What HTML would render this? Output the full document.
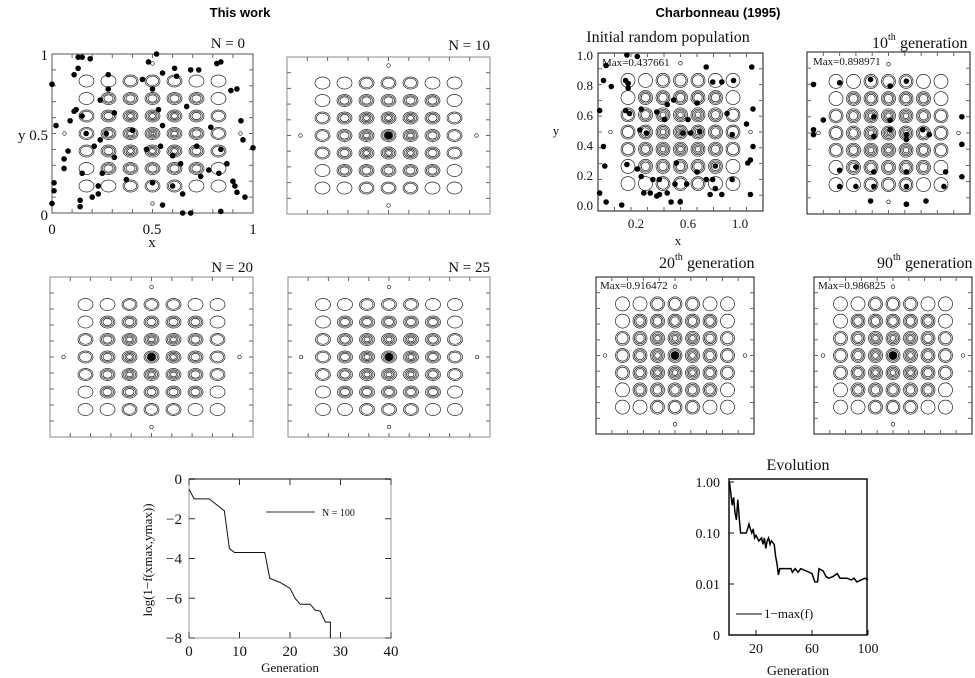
<!DOCTYPE html>
<html><head><meta charset="utf-8"><style>
body{margin:0;background:#fff;}
svg{display:block;}
.s{font-family:"Liberation Serif",serif;fill:#111;}
.b{font-family:"Liberation Sans",sans-serif;font-weight:bold;font-size:13px;fill:#000;}
</style></head><body>
<svg id="c" width="975" height="678" viewBox="0 0 975 678" xmlns="http://www.w3.org/2000/svg">
<text class="b" x="240" y="17" text-anchor="middle">This work</text>
<text class="b" x="718" y="17" text-anchor="middle">Charbonneau (1995)</text>
</svg>
<script>
// ---------- data ----------
const p1X=[.13,.15,.19,.13,.11,0,.02,.01,.01,0,.06,.06,.08,.09,.15,.17,.11,.12,.15,.14,.14,.2,.23,.23,.25,.24,.21,.24,.28,.28,.31,.27,.31,.37,.4,.45,.48,.5,.53,.55,.54,.47,.5,.55,.6,.61,.62,.64,.65,.67,.69,.73,.72,.74,.78,.79,.82,.84,.83,.84,.87,.89,.92,.94,.95,.96,1,.91,.92,.9,.65,.69,.84,.6,.52,.55];
const p1Y=[.98,.98,.97,.91,.87,.81,.55,.19,.14,.06,.28,.34,.39,.58,.61,.5,.64,.65,.25,.08,.04,.1,.12,.17,.25,.46,.42,.71,.87,.78,.35,.5,.63,.21,.52,.84,.95,.78,.65,.55,.42,.4,.19,.05,.17,.91,.86,.31,.12,.67,.9,.9,.42,.23,.27,.54,.94,.95,.25,.4,.31,.77,.78,.58,.46,.1,.41,.17,.13,.2,0,0,.01,.36,1,.88];
const q1X=[.13,.21,-.03,-.05,.01,.12,.14,.14,-.08,.12,.15,.24,.36,.44,.49,.42,.23,.28,-.05,-.04,-.08,-.03,.09,.13,.21,.24,.26,.31,.36,.38,.44,.47,.54,.5,.59,.77,.79,.81,.86,.94,1.08,1.08,1.1,1.06,1.05,1.1,1.09,.86,.95,.79,.74,.67,.6,.56,.62,.69,.9,.94,.81,.67,.74,.51,.38,.33];
const q1Y=[1,.99,.93,.83,.79,.83,.81,.78,.63,.63,.61,.64,.62,.67,.7,.57,.5,.48,.39,.26,.08,.02,0,.27,.24,.19,.08,.08,.06,.07,.08,.02,.02,.14,.14,.07,.17,.11,.07,.17,.07,.3,.39,.28,.54,.64,.92,.82,.83,.82,.92,.68,.57,.48,.48,.49,.61,.47,.26,.22,.17,.28,.17,.17];
const q2X=[.04,.04,.04,.10,.20,.39,.51,.61,.51,.41,.51,.61,.71,.75,.41,.61,.95,.95,.95,.20,.30,.41,.61,.85,.20,.30,.41,.61,.84,.39,.61,.61,.73];
const q2Y=[.80,.52,.49,.58,.81,.83,.79,.82,.58,.60,.52,.49,.52,.49,.48,.46,.60,.43,.23,.27,.29,.26,.26,.26,.17,.17,.17,.17,.17,.08,.06,.06,.08];
const genL=[0,1,4,5,7,8,9,15,16,18,20,21,22,24,25,26,27,28,28];
const valL=[-0.5,-1,-1,-1.2,-1.6,-3.5,-3.7,-3.7,-5,-5.2,-5.5,-6,-6.3,-6.3,-6.6,-6.65,-7.2,-7.2,-8];
const xTicksL=[0,10,20,30,40];
const yTicksL=[0,-2,-4,-6,-8];
const genR=[1,2,3,4,5,6,7,8,9,12,13,14,15,16,17,18,19,20,22,24,25,26,27,28,29,30,31,33,34,35,36,37,45,46,48,50,52,58,60,62,64,65,68,70,72,75,78,80,85,88,90,92,95,98,100];
const valR=[1,.6,.35,.5,.25,.18,.45,.2,.1,.1,.1,.12,.15,.12,.1,.12,.08,.09,.07,.08,.06,.08,.05,.07,.08,.06,.07,.06,.035,.025,.015,.02,.02,.017,.02,.017,.02,.017,.016,.011,.011,.02,.018,.014,.013,.014,.016,.013,.013,.012,.013,.011,.012,.013,.012];
const xTicksR=[20,60,100];
const yTicksR=[1,0.1,0.01,0.001];
const yTickLabR=["1.00","0.10","0.01","0"];
// ---------- helpers ----------
const svg=document.getElementById('c');const NS='http://www.w3.org/2000/svg';
function mk(t,a,p){const e=document.createElementNS(NS,t);for(const k in a)e.setAttribute(k,a[k]);(p||svg).appendChild(e);return e;}
function txt(x,y,s,size,anchor,p){const e=mk('text',{x:x,y:y,'font-size':size,'text-anchor':anchor||'start',class:'s'},p);e.textContent=s;return e;}
function panel(name,x0,y0,x1,y1,stroke,spx,spy,rx,ry,centerDot){
 const g=mk('g',{});
 
 
 mk('rect',{x:x0,y:y0,width:x1-x0,height:y1-y0,fill:'none',stroke:stroke,'stroke-width':1},g);
 const cx=(x0+x1)/2,cy=(y0+y1)/2;
 for(let k=1;k<10;k++){const tx=x0+(x1-x0)*k/10,ty=y0+(y1-y0)*k/10;
  mk('line',{x1:tx,y1:y1,x2:tx,y2:y1-4,stroke:'#666'},g);mk('line',{x1:tx,y1:y0,x2:tx,y2:y0+4,stroke:'#666'},g);
  mk('line',{x1:x0,y1:ty,x2:x0+4,y2:ty,stroke:'#666'},g);mk('line',{x1:x1,y1:ty,x2:x1-4,y2:ty,stroke:'#666'},g);}
 for(let i=-3;i<=3;i++)for(let j=-3;j<=3;j++){
  const m=Math.max(Math.abs(i),Math.abs(j));let n=Math.max(2,5-m);if(m==3&&(Math.abs(i)+Math.abs(j))>=5)n=1;
  for(let k=0;k<n;k++){const s=1-k*0.2;mk('ellipse',{cx:cx+i*spx,cy:cy+j*spy,rx:rx*s,ry:ry*s,fill:'none',stroke:'#222','stroke-width':0.7},g);}
 }
 [[0,-4],[0,4],[-4,0],[4,0]].forEach(d=>mk('circle',{cx:cx+d[0]*spx,cy:cy+d[1]*spy,r:1.8,fill:'none',stroke:'#222','stroke-width':0.7},g));
 if(centerDot)mk('circle',{cx:cx,cy:cy,r:4,fill:'#000'},g);
 return g;
}
// ---------- left contour panels ----------
panel('panel-n0',52,54,253,213,'#555',22,17.5,7.5,6,false);
txt(245,48,'N  =  0',15,'end');
txt(48,220,'0',15,'end');txt(48,60,'1',15,'end');txt(48,140,'y 0.5',15,'end');
txt(52,234,'0',15,'middle');txt(152,234,'0.5',15,'middle');txt(253,234,'1',15,'middle');txt(152,247,'x',15,'middle');
p1X.forEach((v,i)=>{const d=mk('circle',{cx:52+v*201,cy:213-p1Y[i]*159,r:2.8,fill:'#000'});
 
 });
panel('panel-n10',287,57,490,214,'#888',22,17.5,7.5,6,true);txt(490,50,'N  =  10',15,'end');
panel('panel-n20',50,277,253,437,'#888',22,17.5,7.5,6,true);txt(253,272,'N  =  20',15,'end');
panel('panel-n25',288,277,490,437,'#888',22,17.5,7.5,6,true);txt(490,272,'N  =  25',15,'end');
// ---------- right panels ----------
panel('panel-initial',598,53,763,211,'#111',17.5,17.2,7,7,false);
txt(668,42,'Initial random population',16,'middle');
txt(602,66,'Max=0.437661',11);
[[1,55],[.8,85],[.6,115],[.4,145],[.2,175],[0,205]].forEach(t=>txt(593,t[1]+5,t[0].toFixed(1),13,'end'));
[.2,.6,1].forEach(t=>txt(610+t*130,228,t.toFixed(1),13,'middle'));
txt(678,245,'x',13,'middle');txt(556,135,'y',13,'middle');
q1X.forEach((v,i)=>{const d=mk('circle',{cx:610+v*130,cy:205-q1Y[i]*150,r:2.8,fill:'#000'});
 
 });
panel('panel-gen10',807,52,970,214,'#111',17.5,17.2,7,7,false);
txt(888,48,'10',16,'end');txt(888,40,'th',10);txt(900,48,'generation',16);
txt(813,65,'Max=0.898971',11);
q2X.forEach((v,i)=>{const d=mk('circle',{cx:807+v*163,cy:214-q2Y[i]*162,r:2.8,fill:'#000'});
 
 });
panel('panel-gen20',596,277,754,434,'#111',17.5,17.2,7,7,true);
txt(675,268,'20',16,'end');txt(675,260,'th',10);txt(687,268,'generation',16);txt(600,289,'Max=0.916472',11);
panel('panel-gen90',814,277,972,434,'#111',17.5,17.2,7,7,true);
txt(893,268,'90',16,'end');txt(893,260,'th',10);txt(905,268,'generation',16);txt(818,289,'Max=0.986825',11);
// ---------- bottom-left line chart ----------
const lx=v=>189+v*5.05;
const gL=mk('g',{});


mk('rect',{x:189,y:479,width:202,height:159,fill:'none',stroke:'#999'},gL);
mk('line',{x1:189,y1:479,x2:391,y2:479,stroke:'#888','stroke-width':2},gL);
xTicksL.forEach(t=>{mk('line',{x1:lx(t),y1:638,x2:lx(t),y2:632,stroke:'#333'},gL);mk('line',{x1:lx(t),y1:479,x2:lx(t),y2:485,stroke:'#333'},gL);txt(lx(t),656,String(t),15,'middle',gL);});
yTicksL.forEach(t=>{const y=479+(-t)*19.875;mk('line',{x1:189,y1:y,x2:195,y2:y,stroke:'#333'},gL);mk('line',{x1:391,y1:y,x2:385,y2:y,stroke:'#333'},gL);txt(182,y+5,t===0?'0':'\u2212'+(-t),15,'end',gL);});
mk('polyline',{points:genL.map((g,i)=>lx(g)+','+(479+(-valL[i])*19.875)).join(' '),fill:'none',stroke:'#111','stroke-width':1},gL);
mk('line',{x1:266,y1:512,x2:315,y2:512,stroke:'#333'},gL);txt(322,516,'N = 100',10,'start',gL);
txt(290,672,'Generation',13,'middle',gL);
const yl=txt(0,0,'log(1\u2212f(xmax,ymax))',13,'middle',gL);yl.setAttribute('transform','translate(152,560) rotate(-90)');
// ---------- bottom-right log chart ----------
const rx=v=>728+v*1.4, ry=v=>482+(-Math.log10(v))*51;
const gR=mk('g',{});


txt(798,470,'Evolution',16,'middle',gR);
mk('rect',{x:729,y:479,width:138,height:156,fill:'none',stroke:'#111','stroke-width':1.5},gR);
xTicksR.forEach(t=>{mk('line',{x1:rx(t),y1:635,x2:rx(t),y2:630,stroke:'#111'},gR);txt(rx(t),653,String(t),14,'middle',gR);});
yTicksR.forEach((t,i)=>{const y=Math.min(ry(t),635);mk('line',{x1:729,y1:y,x2:734,y2:y,stroke:'#111'},gR);txt(720,y+5,yTickLabR[i],14,'end',gR);});
mk('polyline',{points:genR.map((g,i)=>rx(g)+','+ry(valR[i])).join(' '),fill:'none',stroke:'#000','stroke-width':1.5},gR);
mk('line',{x1:736,y1:614,x2:762,y2:614,stroke:'#000'},gR);txt(764,618,'1\u2212max(f)',13,'start',gR);
txt(798,675,'Generation',14,'middle',gR);
</script>
</body></html>
